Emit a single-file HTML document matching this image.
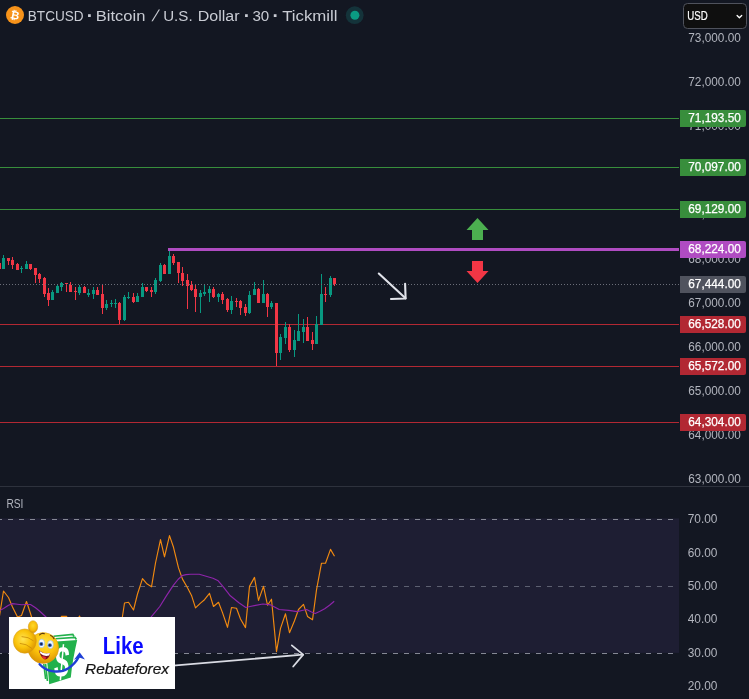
<!DOCTYPE html>
<html lang="en"><head><meta charset="utf-8"><title>BTCUSD chart</title>
<style>
html,body{margin:0;padding:0;background:#131722;}
body{width:749px;height:699px;overflow:hidden;font-family:"Liberation Sans",sans-serif;}
svg{display:block}
text{font-family:"Liberation Sans",sans-serif;}
.ax{fill:#b2b5be;font-size:12px}
.tg{fill:#ffffff;font-size:12px;stroke:#ffffff;stroke-width:.25px}
.hd{fill:#c9ccd4;font-size:15.5px}
</style></head><body>
<svg width="749" height="699" viewBox="0 0 749 699">
<defs>
<radialGradient id="gf" cx="0.55" cy="0.32" r="0.75"><stop offset="0" stop-color="#ffe23e"/><stop offset="0.5" stop-color="#fcc30c"/><stop offset="0.85" stop-color="#e09a04"/><stop offset="1" stop-color="#c97f00"/></radialGradient>
<radialGradient id="gh" cx="0.5" cy="0.4" r="0.65"><stop offset="0" stop-color="#ffd92a"/><stop offset="0.6" stop-color="#f7bb08"/><stop offset="1" stop-color="#cf8400"/></radialGradient>
<radialGradient id="gk" cx="0.42" cy="0.42" r="0.62"><stop offset="0" stop-color="#ffe352"/><stop offset="0.55" stop-color="#fac40c"/><stop offset="1" stop-color="#dc9400"/></radialGradient>
</defs>
<rect x="0" y="0" width="749" height="699" fill="#131722"/>

<rect x="0" y="518.4" width="679" height="134.5" fill="#1e1e33"/>
<rect x="0" y="486" width="749" height="1" fill="#2e323d"/>
<line x1="0" y1="519.5" x2="679" y2="519.5" stroke="#858894" stroke-width="1.1" stroke-dasharray="5 6" stroke-dashoffset="3"/>
<line x1="0" y1="586.5" x2="679" y2="586.5" stroke="#5d6071" stroke-width="1.1" stroke-dasharray="5 6" stroke-dashoffset="3"/>
<line x1="0" y1="653.5" x2="679" y2="653.5" stroke="#858894" stroke-width="1.1" stroke-dasharray="5 6" stroke-dashoffset="3"/>
<rect x="0" y="118" width="679" height="1" fill="#388e3c"/>
<rect x="0" y="167" width="679" height="1" fill="#388e3c"/>
<rect x="0" y="209" width="679" height="1" fill="#388e3c"/>
<rect x="0" y="324" width="679" height="1" fill="#b22833"/>
<rect x="0" y="366" width="679" height="1" fill="#b22833"/>
<rect x="0" y="422" width="679" height="1" fill="#b22833"/>
<rect x="-1" y="263" width="1" height="6" fill="#f23645"/>
<rect x="-2" y="263" width="3" height="6" fill="#f23645"/>
<rect x="3" y="255" width="1" height="14" fill="#089981"/>
<rect x="2" y="258" width="3" height="11" fill="#089981"/>
<rect x="8" y="258" width="1" height="7" fill="#f23645"/>
<rect x="7" y="258" width="3" height="3" fill="#f23645"/>
<rect x="12" y="257" width="1" height="12" fill="#f23645"/>
<rect x="11" y="260" width="3" height="5" fill="#f23645"/>
<rect x="17" y="263" width="1" height="7" fill="#f23645"/>
<rect x="16" y="264" width="3" height="6" fill="#f23645"/>
<rect x="21" y="266" width="1" height="7" fill="#089981"/>
<rect x="20" y="268" width="3" height="1" fill="#089981"/>
<rect x="26" y="261" width="1" height="8" fill="#089981"/>
<rect x="25" y="264" width="3" height="5" fill="#089981"/>
<rect x="30" y="264" width="1" height="6" fill="#f23645"/>
<rect x="29" y="264" width="3" height="5" fill="#f23645"/>
<rect x="35" y="268" width="1" height="15" fill="#f23645"/>
<rect x="34" y="268" width="3" height="7" fill="#f23645"/>
<rect x="39" y="273" width="1" height="10" fill="#f23645"/>
<rect x="38" y="274" width="3" height="5" fill="#f23645"/>
<rect x="44" y="277" width="1" height="20" fill="#f23645"/>
<rect x="43" y="278" width="3" height="16" fill="#f23645"/>
<rect x="48" y="288" width="1" height="18" fill="#f23645"/>
<rect x="47" y="293" width="3" height="7" fill="#f23645"/>
<rect x="52" y="290" width="1" height="10" fill="#089981"/>
<rect x="51" y="292" width="3" height="8" fill="#089981"/>
<rect x="57" y="285" width="1" height="8" fill="#089981"/>
<rect x="56" y="286" width="3" height="7" fill="#089981"/>
<rect x="61" y="282" width="1" height="9" fill="#089981"/>
<rect x="60" y="283" width="3" height="4" fill="#089981"/>
<rect x="66" y="283" width="1" height="9" fill="#f23645"/>
<rect x="65" y="283" width="3" height="1" fill="#f23645"/>
<rect x="70" y="282" width="1" height="10" fill="#f23645"/>
<rect x="69" y="285" width="3" height="7" fill="#f23645"/>
<rect x="75" y="287" width="1" height="13" fill="#f23645"/>
<rect x="74" y="291" width="3" height="1" fill="#f23645"/>
<rect x="79" y="285" width="1" height="10" fill="#089981"/>
<rect x="78" y="287" width="3" height="6" fill="#089981"/>
<rect x="84" y="286" width="1" height="7" fill="#f23645"/>
<rect x="83" y="287" width="3" height="6" fill="#f23645"/>
<rect x="88" y="289" width="1" height="8" fill="#089981"/>
<rect x="87" y="293" width="3" height="2" fill="#089981"/>
<rect x="93" y="287" width="1" height="12" fill="#089981"/>
<rect x="92" y="290" width="3" height="4" fill="#089981"/>
<rect x="97" y="287" width="1" height="8" fill="#f23645"/>
<rect x="96" y="290" width="3" height="5" fill="#f23645"/>
<rect x="102" y="285" width="1" height="29" fill="#f23645"/>
<rect x="101" y="294" width="3" height="14" fill="#f23645"/>
<rect x="106" y="300" width="1" height="10" fill="#089981"/>
<rect x="105" y="304" width="3" height="4" fill="#089981"/>
<rect x="111" y="300" width="1" height="7" fill="#089981"/>
<rect x="110" y="303" width="3" height="1" fill="#089981"/>
<rect x="115" y="299" width="1" height="9" fill="#089981"/>
<rect x="114" y="303" width="3" height="1" fill="#089981"/>
<rect x="119" y="302" width="1" height="22" fill="#f23645"/>
<rect x="118" y="303" width="3" height="17" fill="#f23645"/>
<rect x="124" y="295" width="1" height="26" fill="#089981"/>
<rect x="123" y="297" width="3" height="23" fill="#089981"/>
<rect x="128" y="292" width="1" height="7" fill="#089981"/>
<rect x="127" y="297" width="3" height="1" fill="#089981"/>
<rect x="133" y="293" width="1" height="10" fill="#f23645"/>
<rect x="132" y="297" width="3" height="5" fill="#f23645"/>
<rect x="137" y="293" width="1" height="9" fill="#089981"/>
<rect x="136" y="296" width="3" height="6" fill="#089981"/>
<rect x="142" y="283" width="1" height="14" fill="#089981"/>
<rect x="141" y="287" width="3" height="10" fill="#089981"/>
<rect x="146" y="287" width="1" height="5" fill="#f23645"/>
<rect x="145" y="287" width="3" height="4" fill="#f23645"/>
<rect x="151" y="287" width="1" height="10" fill="#f23645"/>
<rect x="150" y="290" width="3" height="2" fill="#f23645"/>
<rect x="155" y="278" width="1" height="16" fill="#089981"/>
<rect x="154" y="280" width="3" height="12" fill="#089981"/>
<rect x="160" y="263" width="1" height="19" fill="#089981"/>
<rect x="159" y="265" width="3" height="16" fill="#089981"/>
<rect x="164" y="264" width="1" height="10" fill="#f23645"/>
<rect x="163" y="265" width="3" height="9" fill="#f23645"/>
<rect x="169" y="250" width="1" height="24" fill="#089981"/>
<rect x="168" y="256" width="3" height="18" fill="#089981"/>
<rect x="173" y="254" width="1" height="11" fill="#f23645"/>
<rect x="172" y="256" width="3" height="7" fill="#f23645"/>
<rect x="178" y="262" width="1" height="21" fill="#f23645"/>
<rect x="177" y="262" width="3" height="11" fill="#f23645"/>
<rect x="182" y="267" width="1" height="19" fill="#f23645"/>
<rect x="181" y="273" width="3" height="8" fill="#f23645"/>
<rect x="187" y="274" width="1" height="35" fill="#f23645"/>
<rect x="186" y="280" width="3" height="6" fill="#f23645"/>
<rect x="191" y="281" width="1" height="10" fill="#f23645"/>
<rect x="190" y="285" width="3" height="5" fill="#f23645"/>
<rect x="195" y="285" width="1" height="27" fill="#f23645"/>
<rect x="194" y="289" width="3" height="8" fill="#f23645"/>
<rect x="200" y="290" width="1" height="23" fill="#089981"/>
<rect x="199" y="293" width="3" height="4" fill="#089981"/>
<rect x="204" y="284" width="1" height="12" fill="#089981"/>
<rect x="203" y="292" width="3" height="2" fill="#089981"/>
<rect x="209" y="286" width="1" height="16" fill="#089981"/>
<rect x="208" y="289" width="3" height="4" fill="#089981"/>
<rect x="213" y="287" width="1" height="11" fill="#f23645"/>
<rect x="212" y="289" width="3" height="8" fill="#f23645"/>
<rect x="218" y="293" width="1" height="9" fill="#089981"/>
<rect x="217" y="294" width="3" height="3" fill="#089981"/>
<rect x="222" y="292" width="1" height="12" fill="#f23645"/>
<rect x="221" y="294" width="3" height="6" fill="#f23645"/>
<rect x="227" y="298" width="1" height="14" fill="#f23645"/>
<rect x="226" y="299" width="3" height="11" fill="#f23645"/>
<rect x="231" y="296" width="1" height="18" fill="#089981"/>
<rect x="230" y="301" width="3" height="9" fill="#089981"/>
<rect x="236" y="298" width="1" height="9" fill="#f23645"/>
<rect x="235" y="301" width="3" height="1" fill="#f23645"/>
<rect x="240" y="300" width="1" height="15" fill="#f23645"/>
<rect x="239" y="301" width="3" height="7" fill="#f23645"/>
<rect x="245" y="304" width="1" height="12" fill="#f23645"/>
<rect x="244" y="307" width="3" height="6" fill="#f23645"/>
<rect x="249" y="291" width="1" height="23" fill="#089981"/>
<rect x="248" y="295" width="3" height="18" fill="#089981"/>
<rect x="254" y="282" width="1" height="13" fill="#089981"/>
<rect x="253" y="289" width="3" height="6" fill="#089981"/>
<rect x="258" y="288" width="1" height="15" fill="#f23645"/>
<rect x="257" y="289" width="3" height="14" fill="#f23645"/>
<rect x="263" y="280" width="1" height="23" fill="#089981"/>
<rect x="262" y="294" width="3" height="9" fill="#089981"/>
<rect x="267" y="293" width="1" height="24" fill="#f23645"/>
<rect x="266" y="294" width="3" height="13" fill="#f23645"/>
<rect x="271" y="301" width="1" height="8" fill="#089981"/>
<rect x="270" y="303" width="3" height="4" fill="#089981"/>
<rect x="276" y="303" width="1" height="63" fill="#f23645"/>
<rect x="275" y="303" width="3" height="50" fill="#f23645"/>
<rect x="280" y="334" width="1" height="26" fill="#089981"/>
<rect x="279" y="337" width="3" height="16" fill="#089981"/>
<rect x="285" y="322" width="1" height="22" fill="#089981"/>
<rect x="284" y="327" width="3" height="11" fill="#089981"/>
<rect x="289" y="324" width="1" height="28" fill="#f23645"/>
<rect x="288" y="327" width="3" height="23" fill="#f23645"/>
<rect x="294" y="330" width="1" height="27" fill="#089981"/>
<rect x="293" y="340" width="3" height="10" fill="#089981"/>
<rect x="298" y="314" width="1" height="27" fill="#089981"/>
<rect x="297" y="331" width="3" height="10" fill="#089981"/>
<rect x="303" y="319" width="1" height="24" fill="#089981"/>
<rect x="302" y="327" width="3" height="5" fill="#089981"/>
<rect x="307" y="317" width="1" height="24" fill="#f23645"/>
<rect x="306" y="327" width="3" height="14" fill="#f23645"/>
<rect x="312" y="332" width="1" height="18" fill="#f23645"/>
<rect x="311" y="340" width="3" height="4" fill="#f23645"/>
<rect x="316" y="316" width="1" height="28" fill="#089981"/>
<rect x="315" y="324" width="3" height="20" fill="#089981"/>
<rect x="321" y="274" width="1" height="51" fill="#089981"/>
<rect x="320" y="294" width="3" height="31" fill="#089981"/>
<rect x="325" y="287" width="1" height="15" fill="#f23645"/>
<rect x="324" y="294" width="3" height="1" fill="#f23645"/>
<rect x="330" y="276" width="1" height="21" fill="#089981"/>
<rect x="329" y="278" width="3" height="17" fill="#089981"/>
<rect x="334" y="278" width="1" height="8" fill="#f23645"/>
<rect x="333" y="278" width="3" height="6" fill="#f23645"/>
<line x1="0" y1="284.5" x2="679" y2="284.5" stroke="#6b6e79" stroke-width="1" stroke-dasharray="1 2"/>
<rect x="168" y="248" width="511" height="3" fill="#b04cc2"/>
<path d="M477.5 218 L488.5 230 L483 230 L483 240 L472 240 L472 230 L466.5 230 Z" fill="#4caf50"/>
<path d="M477.5 283 L488.5 271 L483 271 L483 261 L472 261 L472 271 L466.5 271 Z" fill="#f23645"/>
<g stroke="#e1e3ea" stroke-width="2.1" fill="none" stroke-linecap="round" stroke-linejoin="round"><path d="M378.8 273.5 L405.5 298.3"/><path d="M391 299 L405.6 298.5 L405.1 283.8"/></g>
<polyline points="-0.5,616 3.5,591 8.5,597.5 12.5,607 17.5,617 21.5,615.5 26.5,601.5 30.5,613.5 35.5,630 39.5,635 44.5,650 48.5,655 52.5,640 57.5,628 61.5,616.3 66.5,616.3 70.5,625 75.5,624 79.5,616 84.5,626 88.5,622 93.5,618.5 97.5,625 102.5,650 106.5,640 111.5,639 115.5,638 119.5,636 124.5,603 128.5,602.3 133.5,610 137.5,594 142.5,578.6 146.5,583.4 151.5,586.8 155.5,563 160.5,539.6 164.5,556.8 169.5,535.6 173.5,547.3 178.5,567.9 182.5,579.1 187.5,587.7 191.5,595.4 195.5,607.9 200.5,603.1 204.5,599.7 209.5,593.3 213.5,606.5 218.5,602.3 222.5,612.6 227.5,627.3 231.5,607.5 236.5,608.3 240.5,619 245.5,627.6 249.5,586.4 254.5,577.4 258.5,600.4 263.5,586.4 267.5,605.2 271.5,599.2 276.5,651.6 280.5,628.4 285.5,613.8 289.5,632.7 294.5,620.7 298.5,609.5 303.5,604.4 307.5,616.4 312.5,619.8 316.5,589.8 321.5,563.2 325.5,563.2 330.5,549.4 334.5,556.3" fill="none" stroke="#f28a10" stroke-width="1.15" stroke-linejoin="round"/>
<polyline points="-0.5,610.6 3.5,608.5 8.5,605.3 12.5,603.6 17.5,604.3 21.5,604.8 26.5,604.5 30.5,604.5 35.5,607.8 39.5,611 46,617 60,628 100,640 140,628 151.2,616.8 159.8,606.5 166.7,595.4 173.5,585.1 178,579.5 182.1,575.6 186,574.6 190.7,574.2 199.3,574.3 206.1,576.2 213,578.2 218.2,580.8 223.3,586.8 230.3,595.8 238.9,602.7 245.8,607.5 250,606.5 254.3,605.6 262.9,604 270.6,604.9 275.5,607.5 279.2,609.5 288.7,610.4 297.3,611.6 302,610.5 306.7,609.5 311,611.8 315.3,613.5 320,611.2 324.7,608.7 329.5,605.2 334.2,601.3" fill="none" stroke="#8e24aa" stroke-width="1.15" stroke-linejoin="round"/>
<g stroke="#d9dbe3" stroke-width="1.8" fill="none" stroke-linecap="round" stroke-linejoin="round"><path d="M170 665.8 L303 654.6"/><path d="M291.8 645.4 L303.2 654.6 L293.2 666.5"/></g><circle cx="15" cy="15" r="9" fill="#f7931a"/>
<text x="15" y="19" text-anchor="middle" font-size="11" font-weight="bold" fill="#ffffff" transform="rotate(12 15 15)">₿</text>
<text class="hd" x="27.8" y="20.8" textLength="55.8" lengthAdjust="spacingAndGlyphs">BTCUSD</text>
<text class="hd" x="89.9" y="21.6" text-anchor="middle" style="font-size:19px;font-weight:bold">·</text>
<text class="hd" x="95.8" y="20.8" textLength="49.6" lengthAdjust="spacingAndGlyphs">Bitcoin</text>
<text class="hd" x="0" y="0" style="font-size:16px" transform="translate(151.4 21.2) skewX(-19)">/</text>
<text class="hd" x="163.2" y="20.8" textLength="29.4" lengthAdjust="spacingAndGlyphs">U.S.</text>
<text class="hd" x="197.8" y="20.8" textLength="41.8" lengthAdjust="spacingAndGlyphs">Dollar</text>
<text class="hd" x="246.8" y="21.6" text-anchor="middle" style="font-size:19px;font-weight:bold">·</text>
<text class="hd" x="252.4" y="20.8" textLength="16.8" lengthAdjust="spacingAndGlyphs">30</text>
<text class="hd" x="275.6" y="21.6" text-anchor="middle" style="font-size:19px;font-weight:bold">·</text>
<text class="hd" x="282.2" y="20.8" textLength="55.4" lengthAdjust="spacingAndGlyphs">Tickmill</text>
<circle cx="354.7" cy="15.2" r="8.9" fill="#14333a"/>
<circle cx="354.9" cy="15.2" r="4.5" fill="#0b9b83"/>
<rect x="683.5" y="3.5" width="63" height="25" rx="4" fill="#0f0f0f" stroke="#4f525c" stroke-width="1"/>
<text x="687.3" y="19.8" font-size="12" fill="#ffffff" stroke="#ffffff" stroke-width=".2" textLength="20.4" lengthAdjust="spacingAndGlyphs">USD</text>
<path d="M737.1 15.5 L739.4 17.8 L741.7 15.5" fill="none" stroke="#ffffff" stroke-width="1.3" stroke-linecap="round" stroke-linejoin="round"/>
<text class="ax" x="688.3" y="41.9" textLength="52.5" lengthAdjust="spacingAndGlyphs">73,000.00</text>
<text class="ax" x="688.3" y="86.0" textLength="52.5" lengthAdjust="spacingAndGlyphs">72,000.00</text>
<text class="ax" x="688.3" y="130.2" textLength="52.5" lengthAdjust="spacingAndGlyphs">71,000.00</text>
<text class="ax" x="688.3" y="174.3" textLength="52.5" lengthAdjust="spacingAndGlyphs">70,000.00</text>
<text class="ax" x="688.3" y="218.4" textLength="52.5" lengthAdjust="spacingAndGlyphs">69,000.00</text>
<text class="ax" x="688.3" y="262.6" textLength="52.5" lengthAdjust="spacingAndGlyphs">68,000.00</text>
<text class="ax" x="688.3" y="306.7" textLength="52.5" lengthAdjust="spacingAndGlyphs">67,000.00</text>
<text class="ax" x="688.3" y="350.8" textLength="52.5" lengthAdjust="spacingAndGlyphs">66,000.00</text>
<text class="ax" x="688.3" y="394.9" textLength="52.5" lengthAdjust="spacingAndGlyphs">65,000.00</text>
<text class="ax" x="688.3" y="439.1" textLength="52.5" lengthAdjust="spacingAndGlyphs">64,000.00</text>
<text class="ax" x="688.3" y="483.2" textLength="52.5" lengthAdjust="spacingAndGlyphs">63,000.00</text>
<text class="ax" x="687.7" y="522.9" textLength="29.7" lengthAdjust="spacingAndGlyphs">70.00</text>
<text class="ax" x="687.7" y="557.4" textLength="29.7" lengthAdjust="spacingAndGlyphs">60.00</text>
<text class="ax" x="687.7" y="589.9" textLength="29.7" lengthAdjust="spacingAndGlyphs">50.00</text>
<text class="ax" x="687.7" y="623.4" textLength="29.7" lengthAdjust="spacingAndGlyphs">40.00</text>
<text class="ax" x="687.7" y="656.9" textLength="29.7" lengthAdjust="spacingAndGlyphs">30.00</text>
<text class="ax" x="687.7" y="690.4" textLength="29.7" lengthAdjust="spacingAndGlyphs">20.00</text>
<path d="M680 110 H744 Q746 110 746 112 V125 Q746 127 744 127 H680 Z" fill="#388e3c"/>
<text class="tg" x="688.3" y="122.1" textLength="52.5" lengthAdjust="spacingAndGlyphs">71,193.50</text>
<path d="M680 159 H744 Q746 159 746 161 V174 Q746 176 744 176 H680 Z" fill="#388e3c"/>
<text class="tg" x="688.3" y="171.1" textLength="52.5" lengthAdjust="spacingAndGlyphs">70,097.00</text>
<path d="M680 201 H744 Q746 201 746 203 V216 Q746 218 744 218 H680 Z" fill="#388e3c"/>
<text class="tg" x="688.3" y="213.1" textLength="52.5" lengthAdjust="spacingAndGlyphs">69,129.00</text>
<path d="M680 241 H744 Q746 241 746 243 V256 Q746 258 744 258 H680 Z" fill="#b04cc2"/>
<text class="tg" x="688.3" y="253.1" textLength="52.5" lengthAdjust="spacingAndGlyphs">68,224.00</text>
<path d="M680 276 H744 Q746 276 746 278 V291 Q746 293 744 293 H680 Z" fill="#50535e"/>
<text class="tg" x="688.3" y="288.1" textLength="52.5" lengthAdjust="spacingAndGlyphs">67,444.00</text>
<path d="M680 316 H744 Q746 316 746 318 V331 Q746 333 744 333 H680 Z" fill="#b22833"/>
<text class="tg" x="688.3" y="328.1" textLength="52.5" lengthAdjust="spacingAndGlyphs">66,528.00</text>
<path d="M680 358 H744 Q746 358 746 360 V373 Q746 375 744 375 H680 Z" fill="#b22833"/>
<text class="tg" x="688.3" y="370.1" textLength="52.5" lengthAdjust="spacingAndGlyphs">65,572.00</text>
<path d="M680 414 H744 Q746 414 746 416 V429 Q746 431 744 431 H680 Z" fill="#b22833"/>
<text class="tg" x="688.3" y="426.1" textLength="52.5" lengthAdjust="spacingAndGlyphs">64,304.00</text>
<text class="ax" x="6.4" y="508" textLength="17" lengthAdjust="spacingAndGlyphs">RSI</text>
<g id="logo">
<rect x="9" y="617" width="166" height="72" fill="#ffffff"/>
<g fill="none" stroke="#22b14c" stroke-width="1.6"><path d="M53.5 636.2 L72.8 634.4 L74 636.5"/><path d="M55.5 638.8 L75 637.4 L76.4 639.5"/><path d="M43.8 664 L45.6 679"/><path d="M45.6 664 L47.4 681"/></g>
<path d="M53 641.8 L77.2 640 C74.5 652 72 664 70.8 677.6 L49.2 684.2 C48.6 676 47.8 668 47 660 Z" fill="#22b14c"/>
<text x="62" y="677" text-anchor="middle" font-size="44" font-weight="bold" fill="#ffffff" transform="translate(62 660) skewX(-5) scale(0.6 1) translate(-62 -660)">$</text>
<circle cx="43.3" cy="648" r="15.4" fill="url(#gf)" stroke="#d39a1a" stroke-width=".5"/>
<path d="M39.6 664.2 C47 672.5 60 673.5 68 668.5 C73.5 665 77 660.5 79 656.5" fill="none" stroke="#1f3fd6" stroke-width="2.4" stroke-linecap="round"/>
<path d="M79.6 652.3 L85 659.4 L79.3 657.6 L74 659.8 Z" fill="#1f3fd6"/>
<ellipse cx="41.7" cy="643.4" rx="2.8" ry="4.2" fill="#f4f9ff" stroke="#9fc3ea" stroke-width=".7"/>
<ellipse cx="50.5" cy="644.6" rx="2.8" ry="4" fill="#f4f9ff" stroke="#9fc3ea" stroke-width=".7"/>
<circle cx="41.3" cy="644" r="2.05" fill="#3b6ac6"/><circle cx="41.2" cy="644" r="1.1" fill="#15203a"/>
<circle cx="49.9" cy="645.2" r="2" fill="#3b6ac6"/><circle cx="49.8" cy="645.2" r="1.1" fill="#15203a"/>
<path d="M39.6 634.8 Q42 632.6 44.4 633.8" fill="none" stroke="#5a3a10" stroke-width="1.1" stroke-linecap="round"/>
<path d="M50.6 635.6 Q53 636.4 54 638.8" fill="none" stroke="#5a3a10" stroke-width="1.1" stroke-linecap="round"/>
<path d="M38.8 650.3 Q44.5 654.6 50.2 653 Q49.4 658.8 45 659.6 Q40.4 657.4 38.8 650.3 Z" fill="#7d111b"/>
<path d="M39.6 651 Q44.5 654.6 49.9 653.1 Q49.6 654.8 49 655.6 Q44 657 40.4 653.6 Z" fill="#ffffff"/>
<path d="M41.6 656.6 Q44 655.8 46.2 657.6 Q45.8 659.2 44.8 659.5 Q42.8 658.6 41.6 656.6 Z" fill="#e62e38"/>
<ellipse cx="24.8" cy="641.1" rx="11.5" ry="12.2" fill="url(#gk)" stroke="#d39a1a" stroke-width=".5"/>
<ellipse cx="33" cy="626.8" rx="4.7" ry="6.1" fill="url(#gh)" stroke="#d39a1a" stroke-width=".5"/>
<g fill="none" stroke="#c98a06" stroke-width=".8" stroke-linecap="round"><path d="M22 636.6 Q28.4 636.6 33.2 640.6"/><path d="M20.2 643.4 Q26.4 643.6 31.6 648.2"/></g>
<text x="102.8" y="653.6" font-size="24" font-weight="bold" fill="#0a0aff" textLength="40.8" lengthAdjust="spacingAndGlyphs">Like</text>
<text x="85" y="673.6" font-size="14" font-style="italic" fill="#141414" stroke="#141414" stroke-width=".2" textLength="84" lengthAdjust="spacingAndGlyphs">Rebateforex</text>
</g>
</svg>
</body></html>
